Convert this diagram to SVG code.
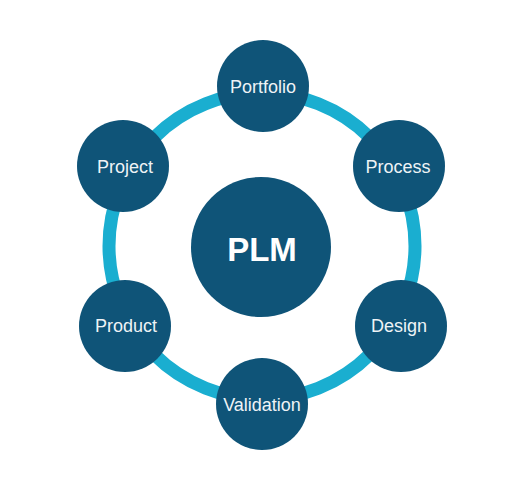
<svg xmlns="http://www.w3.org/2000/svg" width="519" height="485" viewBox="0 0 519 485">
<style>
.ring{fill:none;stroke:#1aaed0;stroke-width:13}
.node{fill:#0f5478}
.lbl{font-family:"Liberation Sans",Arial,sans-serif;font-size:18px;fill:#eef3f6;text-anchor:middle}
.hub{font-family:"Liberation Sans",Arial,sans-serif;font-size:33px;font-weight:bold;fill:#ffffff;text-anchor:middle}
</style>
<rect width="519" height="485" fill="#ffffff"/>
<g id="connectors">
<circle class="ring" cx="262" cy="246" r="153"/>
</g>
<g id="plm">
<circle class="node" cx="261" cy="247" r="70"/>
<text class="hub" x="262" y="261">PLM</text>
</g>
<g id="portfolio">
<circle class="node" cx="263" cy="86" r="46"/>
<text class="lbl" x="263" y="93">Portfolio</text>
</g>
<g id="project">
<circle class="node" cx="123" cy="166" r="46"/>
<text class="lbl" x="125" y="173">Project</text>
</g>
<g id="process">
<circle class="node" cx="399" cy="166" r="46"/>
<text class="lbl" x="398" y="173">Process</text>
</g>
<g id="product">
<circle class="node" cx="125" cy="326" r="46"/>
<text class="lbl" x="126" y="332">Product</text>
</g>
<g id="design">
<circle class="node" cx="401" cy="326" r="46"/>
<text class="lbl" x="399" y="332">Design</text>
</g>
<g id="validation">
<circle class="node" cx="262" cy="404" r="46"/>
<text class="lbl" x="262" y="411">Validation</text>
</g>
</svg>
